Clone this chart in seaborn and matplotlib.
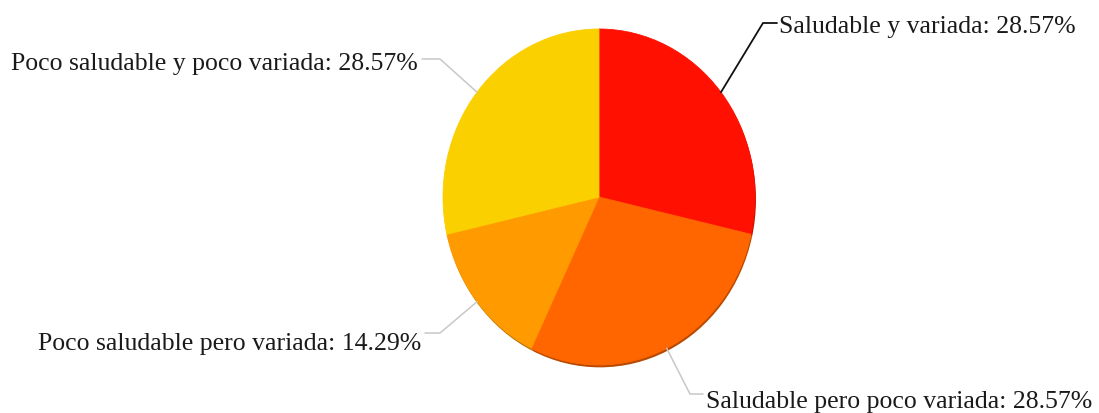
import numpy as np
import matplotlib
matplotlib.use("Agg")
import matplotlib.pyplot as plt
import matplotlib.colors as mcolors
import seaborn as sns

# Diet quality breakdown (share of respondents, %)
categories = [
    "Saludable y variada",
    "Saludable pero poco variada",
    "Poco saludable pero variada",
    "Poco saludable y poco variada",
]
percentages = [28.57, 28.57, 14.29, 28.57]
colors = ["#FF1000", "#FF6600", "#FF9A00", "#FAD000"]

sns.set_theme(style="white")
plt.rcParams["font.family"] = ["Liberation Serif", "DejaVu Serif"]

W, H = 1099, 414
fig = plt.figure(figsize=(W / 100, H / 100), dpi=100)
fig.patch.set_facecolor("white")

# pie centre and radii in pixels (slightly taller than wide)
cx, cy, rx, ry = 599, 198, 156, 168
ax = fig.add_axes([(cx - rx) / W, (H - cy - ry) / H, 2 * rx / W, 2 * ry / H])


def px2data(px, py):
    return (px - cx) / rx, (cy - py) / ry


# soft darker rim under the pie
shade = [tuple(c * 0.72 for c in mcolors.to_rgb(col)) for col in colors]
ax.pie(percentages, colors=shade, startangle=90, counterclock=False,
       center=(0.006, -0.014), wedgeprops=dict(linewidth=0))
wedges, _ = ax.pie(percentages, colors=colors, startangle=90,
                   counterclock=False, wedgeprops=dict(linewidth=0.6))
for w in wedges:
    w.set_edgecolor(w.get_facecolor())

ax.set_aspect("auto")
ax.set_xlim(-1, 1)
ax.set_ylim(-1, 1)
ax.axis("off")

# leader line elbows / ends and label anchors (pixels)
layout = [
    dict(elbow=(763, 24), end=(777, 24), text=(779, 33), ha="left", color="#111111", lw=1.3),
    dict(elbow=(690, 395), end=(703, 395), text=(706, 408), ha="left", color="#c8c8c8", lw=1.1),
    dict(elbow=(440, 334), end=(425, 334), text=(421, 350), ha="right", color="#c8c8c8", lw=1.1),
    dict(elbow=(440, 60), end=(422, 60), text=(418, 70), ha="right", color="#c8c8c8", lw=1.1),
]

for w, cat, pct, spec in zip(wedges, categories, percentages, layout):
    ang = np.deg2rad((w.theta1 + w.theta2) / 2)
    x0, y0 = np.cos(ang), np.sin(ang)
    ex, ey = px2data(*spec["elbow"])
    fx, fy = px2data(*spec["end"])
    ax.plot([x0, ex, fx], [y0, ey, fy], color=spec["color"], lw=spec["lw"],
            clip_on=False, solid_joinstyle="miter")
    tx, ty = px2data(*spec["text"])
    ax.text(tx, ty, f"{cat}: {pct:.2f}%", ha=spec["ha"], va="baseline",
            fontsize=18.5, color="#1a1a1a", clip_on=False)

fig.savefig("out.png", dpi=100, facecolor="white")
